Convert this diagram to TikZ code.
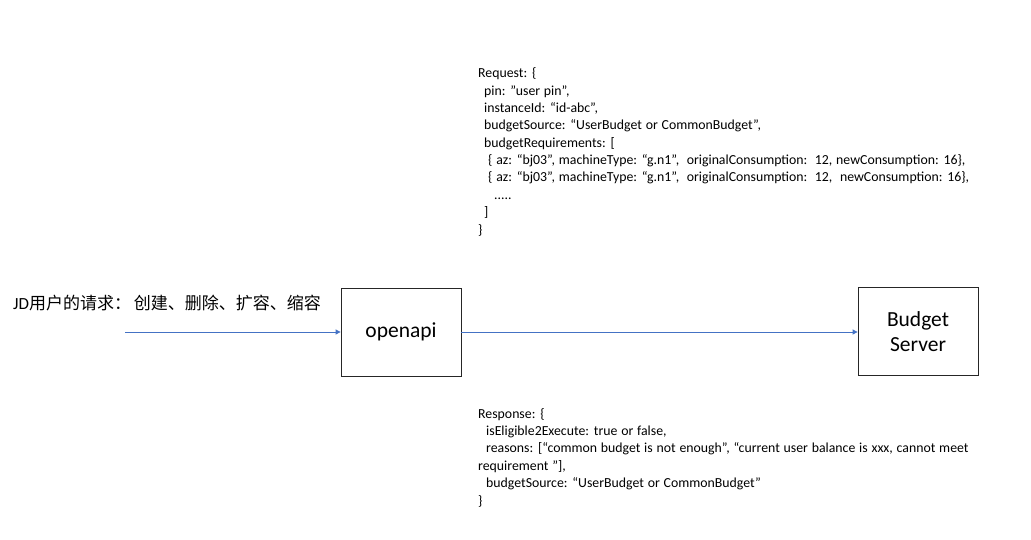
\documentclass[tikz,border=0pt]{standalone}
\usepackage{fontspec}
\setmainfont{Carlito}
\newfontfamily\cjk{Noto Sans CJK SC}
\usetikzlibrary{arrows.meta}
\definecolor{arrowblue}{RGB}{68,114,196}
\newcommand{\codefont}{\fontsize{13.8}{17.38}\selectfont\spaceskip=3.8pt plus 1pt\relax}
\tikzset{
  box/.style={draw=black!85, line width=0.8pt, minimum width=120pt, minimum height=88pt, inner sep=0pt, align=center, font=\fontsize{21.5}{25}\selectfont},
  flow/.style={draw=arrowblue, line width=0.8pt, -{Triangle[length=5pt,width=5pt]}},
  code/.style={anchor=north west, inner sep=0pt, align=left, font=\codefont}
}
\begin{document}
\begin{tikzpicture}[x=1pt,y=-1pt]
\useasboundingbox (0,0) rectangle (1031,539);
\node[box] (openapi) at (401,332) {openapi};
\node[box] (budget) at (918,331.5) {Budget\\Server};
\coordinate (start) at (125,332);
\node[anchor=west, inner sep=0pt, font=\fontsize{17}{20}\selectfont] (label) at (13,303) {JD{\cjk 用户的请求：\,创建、删除、扩容、缩容}};
\draw[flow] (start) -- (openapi.west);
\draw[flow] (openapi.east) -- (budget.west |- openapi.east);
\node[code] (req) at (478,67.5) {Request: \{\\
\hspace*{6pt}pin: ”user pin”,\\
\hspace*{6pt}instanceId: “id-abc”,\\
\hspace*{6pt}budgetSource: “UserBudget or CommonBudget”,\\
\hspace*{6pt}budgetRequirements: [\\
\hspace*{10pt}\{ az: “bj03”, machineType: “g.n1”,\ \ originalConsumption:\ \ 12, newConsumption: 16\},\\
\hspace*{10pt}\{ az: “bj03”, machineType: “g.n1”,\ \ originalConsumption:\ \ 12,\ \ newConsumption: 16\},\\
\hspace*{16pt}.....\\
\hspace*{6pt}]\\
\}};
\node[code] (resp) at (478,408) {Response: \{\\
\hspace*{8pt}isEligible2Execute: true or false,\\
\hspace*{8pt}reasons: [“common budget is not enough”, “current user balance is xxx, cannot meet\\
requirement ”],\\
\hspace*{8pt}budgetSource: “UserBudget or CommonBudget”\\
\}};
\end{tikzpicture}
\end{document}
